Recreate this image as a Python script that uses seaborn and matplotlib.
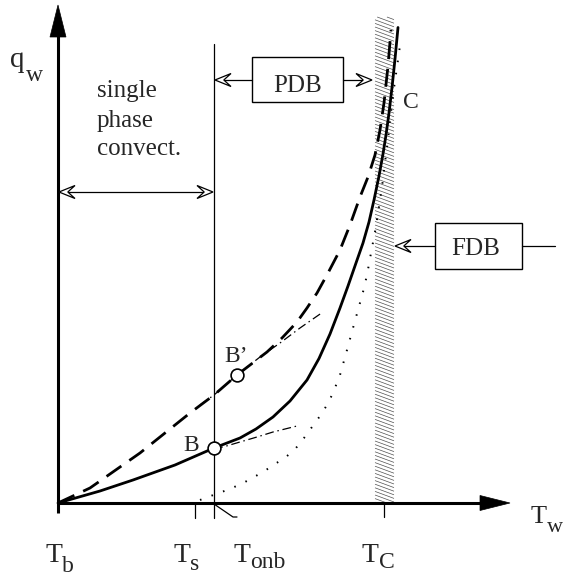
import numpy as np
import pandas as pd
import matplotlib
matplotlib.use("Agg")
import matplotlib.pyplot as plt
from matplotlib.patches import Polygon, Rectangle
from matplotlib.collections import LineCollection
import seaborn as sns

sns.set_theme(style="white")
plt.rcParams["font.family"] = ["Liberation Serif", "DejaVu Serif"]

# Characteristic wall temperatures (relative to bulk temperature T_b)
T_B, T_S, T_ONB, T_C = 0, 137, 156, 326
tick_subs = ["b", "s", "onb", "C"]

# Boiling curve: single-phase convection up to B, partial then fully developed boiling to C
tw_boil = [0, 42, 75, 117, 156, 169, 182, 198, 215, 232, 249, 261, 272, 282, 290,
           298, 305, 311, 316, 321, 325, 328, 331, 334, 337, 340]
qw_boil = [0, 12, 23, 38, 55, 60, 65, 74, 86, 102, 123, 144.5, 169, 195, 217,
           240, 260, 281, 303, 327, 349, 368, 390, 415.5, 444, 475.5]

# Boiling curve for the higher-flow case (through B')
tw_high = [0, 32, 82, 132, 156, 179, 209, 224, 239, 249, 259, 270, 282, 292,
           302, 310, 317, 322, 326, 330, 333]
qw_high = [0, 15, 50, 90, 108, 128, 151, 165, 181, 195, 210, 230, 253, 278,
           306, 326, 348, 373, 400, 437, 473]

# Fully developed boiling asymptote
tw_fdb = [142, 158, 172, 187, 205, 217, 228, 238, 246, 254, 262, 269, 275, 282,
          289, 295, 300, 305, 309, 313, 317, 320, 324, 327, 330, 332, 336, 340, 343]
qw_fdb = [3, 9, 14, 21, 31, 39, 46, 55, 65, 76, 87, 98, 110, 128,
          153, 175, 193, 211, 228, 250, 271, 290, 316, 341, 363, 383, 415, 443, 465]

# Single-phase extensions beyond the onset points
tw_ext_hi = [142, 156, 179, 202, 222, 242, 265]
qw_ext_hi = [98, 108, 128, 146, 160, 175, 191]
tw_ext_lo = [156, 165, 182, 199, 215, 239]
qw_ext_lo = [55, 56, 61, 66, 71, 77]

# Onset of nucleate boiling points
onset_tw = [156, 179]
onset_qw = [55, 128]
onset_names = ["B", "B\u2019"]

# Critical band around T_C
band_tw = [317, 336]
band_qw = [0, 486]

fig = plt.figure(figsize=(5.63, 5.76), dpi=100)
ax = fig.add_axes([0, 0, 1, 1])
ax.set_xlim(-58, 505)
ax.set_ylim(-73, 503)
ax.set_axis_off()

# Hatched band: thin descending lines trimmed to the band rectangle
x0, x1 = band_tw
y0, y1 = band_qw
k = 7.0 / (x1 - x0)
segs = []
for s in np.arange(y0 - 10, y1 + 12, 3.6):
    xa = max(x0, x0 + (s - y1) / k)
    xb = min(x1, x0 + (s - y0) / k)
    if xb > xa:
        segs.append([(xa, s - k * (xa - x0)), (xb, s - k * (xb - x0))])
ax.add_collection(LineCollection(segs, colors="#505050", linewidths=0.5, zorder=1))

# Curves
sns.lineplot(x=tw_fdb, y=qw_fdb, sort=False, estimator=None, color="black",
             lw=1.4, ax=ax, zorder=2).lines[-1].set_dashes((0.8, 5.5))
sns.lineplot(x=tw_ext_hi, y=qw_ext_hi, sort=False, estimator=None, color="black",
             lw=0.9, ax=ax, zorder=2).lines[-1].set_dashes((7, 3, 1.2, 3))
sns.lineplot(x=tw_ext_lo, y=qw_ext_lo, sort=False, estimator=None, color="black",
             lw=0.9, ax=ax, zorder=2).lines[-1].set_dashes((7, 3, 1.2, 3))
sns.lineplot(x=tw_high, y=qw_high, sort=False, estimator=None, color="black",
             lw=2.0, ax=ax, zorder=3).lines[-1].set_dashes((6.5, 3.5))
sns.lineplot(x=tw_boil, y=qw_boil, sort=False, estimator=None, color="black",
             lw=2.0, ax=ax, zorder=3)


def sub_label(x, y, main, sub, size, sub_size, dx, dy):
    """Upright symbol with an upright subscript set as a second text."""
    ax.text(x, y, main, fontsize=size, ha="left", va="baseline")
    ax.text(x + dx, y - dy, sub, fontsize=sub_size, ha="left", va="baseline")


# Axes with filled arrowheads
ax.plot([0, 0], [-10, 468], color="black", lw=2.2, zorder=4, solid_capstyle="butt")
ax.plot([0, 424], [0, 0], color="black", lw=2.2, zorder=4, solid_capstyle="butt")
ax.add_patch(Polygon([(-8, 466), (0, 498), (8, 466)], closed=True,
                     fc="black", ec="black", lw=0.5, zorder=4))
ax.add_patch(Polygon([(422, 7.5), (452, 0), (422, -7.5)], closed=True,
                     fc="black", ec="black", lw=0.5, zorder=4))
sub_label(473, -20, "T", "w", 19, 16, 16, 9)
sub_label(-48, 436, "q", "w", 21, 17, 16, 14)

# Temperature ticks and labels
ax.plot([T_S, T_S], [0, -15], color="black", lw=0.9, zorder=4)
ax.plot([T_C, T_C], [0, -14], color="black", lw=0.9, zorder=4)
ax.plot([T_ONB, T_ONB], [-15, 459], color="black", lw=0.9, zorder=2)
ax.plot([T_ONB, T_ONB + 19, T_ONB + 23], [-1, -14, -14], color="black", lw=0.9)
label_x = [-13, 115, 175, 304]
sub_drop = [10, 8, 6, 6]
for lx, sub, dy in zip(label_x, tick_subs, sub_drop):
    sub_label(lx, -59, "T", sub, 20, 17, 17, dy)


def open_head(tip_x, tip_y, direction, length=16, half=6.5):
    """Open, notched arrowhead; returns x where the shaft should stop."""
    back = tip_x - direction * length
    notch = tip_x - direction * length * 0.55
    ax.add_patch(Polygon([(tip_x, tip_y), (back, tip_y + half), (notch, tip_y),
                          (back, tip_y - half)], closed=True, fc="white",
                         ec="black", lw=0.9, zorder=5))
    return notch


# Single-phase convection range
y_sp = 311
a = open_head(T_B + 1, y_sp, -1)
b = open_head(T_ONB - 1, y_sp, 1)
ax.plot([a, b], [y_sp, y_sp], color="black", lw=0.9, zorder=4)
for yb, word in zip([406, 376, 348], ["single", "phase", "convect."]):
    ax.text(39, yb, word, fontsize=18, ha="left", va="baseline")

# PDB box
ax.add_patch(Rectangle((194, 401), 91, 45, fill=False, ec="black", lw=1.0, zorder=4))
ax.text(239.5, 411, "PDB", fontsize=18, ha="center", va="baseline")
y_pdb = 423
a = open_head(T_ONB + 1, y_pdb, -1)
ax.plot([a, 194], [y_pdb, y_pdb], color="black", lw=0.9)
b = open_head(band_tw[0] - 3, y_pdb, 1)
ax.plot([285, b], [y_pdb, y_pdb], color="black", lw=0.9)

# FDB box
ax.add_patch(Rectangle((377, 234), 87, 46, fill=False, ec="black", lw=1.0, zorder=4))
ax.text(418, 248, "FDB", fontsize=18, ha="center", va="baseline")
y_fdb = 257
a = open_head(band_tw[1] + 1, y_fdb, -1)
ax.plot([a, 377], [y_fdb, y_fdb], color="black", lw=0.9, zorder=4)
ax.plot([464, 497], [y_fdb, y_fdb], color="black", lw=0.9)

# Onset points
sns.scatterplot(x=onset_tw, y=onset_qw, s=85, marker="o", color="white",
                edgecolor="black", linewidth=1.2, ax=ax, zorder=6)
ax.text(125, 52, onset_names[0], fontsize=17, ha="left", va="baseline")
ax.text(166, 141, onset_names[1], fontsize=17, ha="left", va="baseline")
ax.text(345, 395, "C", fontsize=17, ha="left", va="baseline")

fig.savefig("out.png", dpi=100)
